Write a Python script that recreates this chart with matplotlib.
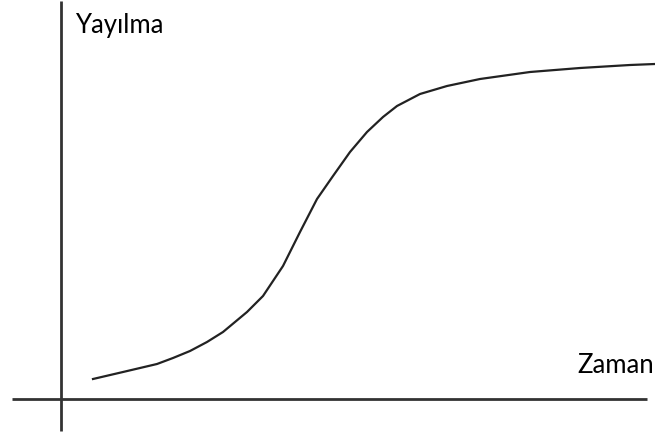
import numpy as np
import matplotlib.pyplot as plt

# S-shaped spread curve (time, spread)
zaman = [32, 62, 79, 96, 112, 129, 146, 162, 186, 202, 222, 239, 256, 272, 289,
         306, 322, 336, 359, 386, 419, 469, 519, 569, 594]
yayilma = [20, 27, 31, 35, 41, 48, 57, 67, 87, 103, 133, 167, 200, 223, 247,
           267, 282, 293, 305, 313, 320, 327, 331, 334, 335]

x_label = "Zaman"
y_label = "Yayılma"

fig = plt.figure(figsize=(6.55, 4.39), dpi=100)
ax = fig.add_axes([0, 0, 1, 1])
ax.set_xlim(-61, 594)
ax.set_ylim(-39, 400)
ax.axis("off")

# axis lines crossing at the origin
ax.plot([-49, 586], [0, 0], color="#333333", lw=2.0, solid_capstyle="butt")
ax.plot([0, 0], [-32, 398], color="#333333", lw=2.0, solid_capstyle="butt")

ax.plot(zaman, yayilma, color="#222222", lw=1.6, solid_joinstyle="round")

ax.text(14, 367, y_label, fontsize=18.5, family="Lato", va="baseline", ha="left")
ax.text(593, 27, x_label, fontsize=18.5, family="Lato", va="baseline", ha="right")

plt.savefig("out.png", dpi=100)
